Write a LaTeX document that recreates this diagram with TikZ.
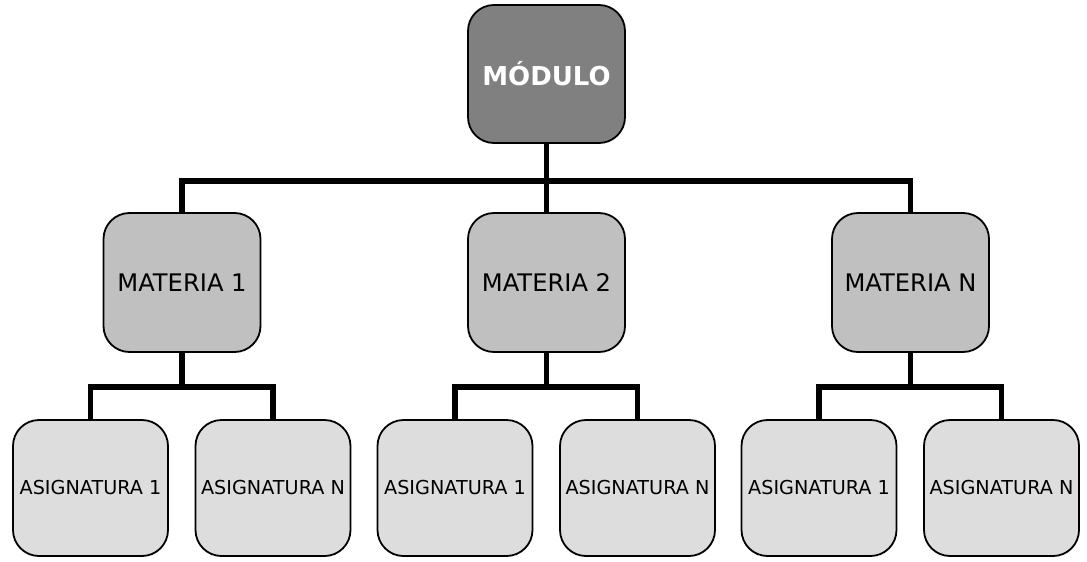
\documentclass[tikz,border=0pt]{standalone}
\usepackage{fontspec}
\setmainfont{DejaVu Sans}
\definecolor{grisMod}{HTML}{808080}
\definecolor{grisMat}{HTML}{C0C0C0}
\definecolor{grisAsig}{HTML}{DDDDDD}
\begin{document}
\begin{tikzpicture}[x=1pt,y=-1pt,
	caja/.style={draw,line width=1.8pt,rounded corners=26pt,inner sep=0pt,align=center},
	modulo/.style={caja,fill=grisMod,minimum width=157pt,minimum height=138pt,text=white,font=\fontsize{26}{30}\selectfont\bfseries},
	materia/.style={caja,fill=grisMat,minimum width=157pt,minimum height=139pt,font=\fontsize{24.2}{28}\selectfont},
	asig/.style={caja,fill=grisAsig,minimum width=155pt,minimum height=136pt,font=\fontsize{19.2}{22}\selectfont},
	conn/.style={line width=5.5pt}]
	\useasboundingbox (0,0) rectangle (1087,562);
	\node[modulo] (mod) at (546.5,74) {MÓDULO};
	\coordinate (bus) at (546.5,181);
	% materias y asignaturas
	\foreach \n/\x/\t in {1/182/1,2/546.5/2,3/910.5/N}{
		\node[materia] (m\n) at (\x,282.5) {MATERIA \t};
		\node[asig] (a\n1) at (\x-91.5,488) {ASIGNATURA 1};
		\node[asig] (a\n2) at (\x+91,488) {ASIGNATURA N};
		\coordinate (b\n) at (\x,387);
		\draw[conn] (m\n.south) -- (b\n);
		\draw[conn] (a\n1.north) |- (b\n) -| (a\n2.north);
	}
	\draw[conn] (mod.south) -- (bus);
	\draw[conn] (m1.north) |- (bus) -| (m3.north);
	\draw[conn] (m2.north) -- (bus);
\end{tikzpicture}
\end{document}
